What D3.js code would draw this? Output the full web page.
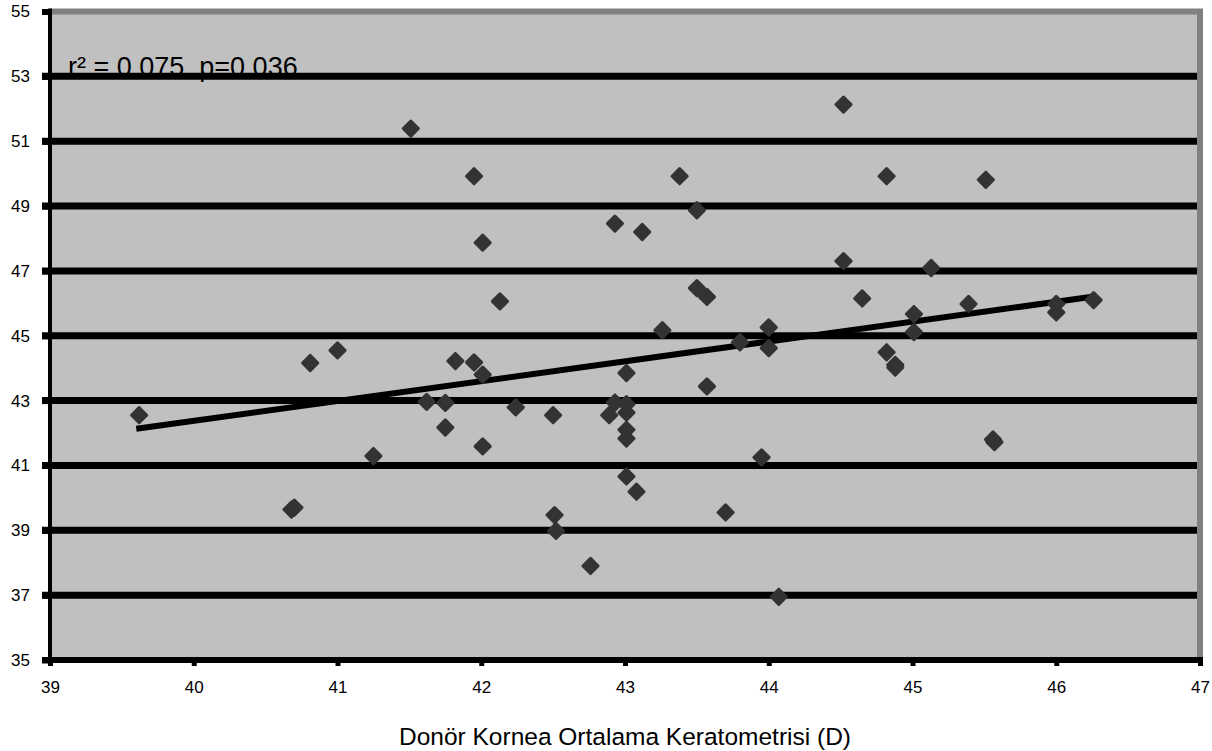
<!DOCTYPE html>
<html>
<head>
<meta charset="utf-8">
<script src="https://cdn.jsdelivr.net/npm/d3@7"></script>
<style>
  body { margin: 0; background: #fff; }
  text { font-family: "Liberation Sans", Arial, Helvetica, sans-serif; }
</style>
</head>
<body>
<div id="draw"></div>
<script>
// values
const xTicks = [39, 40, 41, 42, 43, 44, 45, 46, 47];
const yTicks = [35, 37, 39, 41, 43, 45, 47, 49, 51, 53, 55];
const xValues = [
  39.62, 40.68, 40.70, 40.81, 41.00, 41.25, 41.51, 41.62, 41.75, 41.75,
  41.82, 41.95, 41.95, 42.01, 42.01, 42.01, 42.13, 42.24, 42.50, 42.51,
  42.52, 42.76, 42.89, 42.93, 42.93, 43.01, 43.01, 43.01, 43.01, 43.01,
  43.08, 43.01, 43.12, 43.26, 43.38, 43.50, 43.50, 43.57, 43.57, 43.70,
  43.80, 43.95, 44.00, 44.00, 44.07, 44.52, 44.52, 44.65, 44.82, 44.82,
  44.88, 44.88, 45.01, 45.01, 45.13, 45.39, 45.51, 45.56, 45.57, 46.00,
  46.00, 46.26
];
const yValues = [
  42.55, 39.64, 39.70, 44.16, 44.55, 41.29, 51.39, 42.96, 42.93, 42.17,
  44.22, 44.18, 49.92, 47.87, 43.80, 41.59, 46.06, 42.79, 42.55, 39.47,
  38.98, 37.90, 42.55, 42.94, 48.46, 42.89, 42.63, 42.10, 41.83, 40.66,
  40.19, 43.85, 48.20, 45.17, 49.92, 48.87, 46.47, 46.20, 43.44, 39.55,
  44.80, 41.25, 45.26, 44.62, 36.95, 52.13, 47.30, 46.15, 49.92, 44.49,
  44.10, 44.02, 45.67, 45.11, 47.09, 45.98, 49.81, 41.80, 41.72, 45.72,
  45.98, 46.10
];
// trend line ends
const trendX = [39.6, 46.25];
const trendY = [42.13, 46.2];
const statText = "r\u00B2 = 0.075  p=0.036";
const xTitle = "Donör Kornea Ortalama Keratometrisi (D)";

class ScatterRenderer {

    constructor(xs, ys) {
        this.points = xs.map((x, i) => ({x: x, y: ys[i]}));
    }

    render() {
        this._initVariable();
        this.vis = this._initSvg();
        this._drawFrame();
        this._drawGrid();
        this._drawAxes();
        this._drawTrend();
        this._drawPoints();
    }

    _initVariable() {
        this.w = 1212;
        this.h = 751;
        this.left = 50;
        this.right = 1200;
        this.top = 11.5;
        this.bottom = 660;
        this.x = d3.scaleLinear().domain([39, 47]).range([this.left, this.right]);
        this.y = d3.scaleLinear().domain([35, 55]).range([this.bottom, this.top]);
    }

    _initSvg() {
        return d3.select("#draw").append("svg")
            .attr("width", this.w)
            .attr("height", this.h);
    }

    _drawFrame() {
        this.vis.append("rect")
            .attr("x", this.left)
            .attr("y", this.top)
            .attr("width", this.right - this.left)
            .attr("height", this.bottom - this.top)
            .style("fill", "#c0c0c0");
        //the stat text sits under the grid line
        this.vis.append("text")
            .attr("x", 68)
            .attr("y", 76)
            .style("font-size", "27px")
            .style("white-space", "pre")
            .style("fill", "#000")
            .text(statText);
        //top and right border in grey
        this.vis.append("line")
            .attr("x1", this.left).attr("x2", this.right + 3)
            .attr("y1", this.top).attr("y2", this.top)
            .style("stroke", "#808080").style("stroke-width", 6);
        this.vis.append("line")
            .attr("x1", this.right).attr("x2", this.right)
            .attr("y1", this.top).attr("y2", this.bottom)
            .style("stroke", "#808080").style("stroke-width", 6);
    }

    _drawGrid() {
        const inner = yTicks.filter(v => v > 35 && v < 55);
        this.vis.append("g").selectAll("line")
            .data(inner)
            .join("line")
            .attr("x1", this.left - 8)
            .attr("x2", this.right - 3)
            .attr("y1", d => this.y(d))
            .attr("y2", d => this.y(d))
            .style("stroke", "#000")
            .style("stroke-width", 7);
    }

    _drawAxes() {
        const yAxis = this.vis.append("g")
            .attr("transform", "translate(" + this.left + ",0)")
            .call(d3.axisLeft(this.y).tickValues(yTicks).tickSize(8).tickPadding(12).tickFormat(d3.format("d")));
        yAxis.select(".domain").remove();
        yAxis.selectAll(".tick line").style("stroke", "#000").style("stroke-width", 6);
        yAxis.selectAll(".tick text").style("font-size", "17px").style("fill", "#000");

        const xAxis = this.vis.append("g")
            .attr("transform", "translate(0," + this.bottom + ")")
            .call(d3.axisBottom(this.x).tickValues(xTicks).tickSize(6).tickPadding(15).tickFormat(d3.format("d")));
        xAxis.select(".domain").remove();
        xAxis.selectAll(".tick line").style("stroke", "#000").style("stroke-width", 5);
        xAxis.selectAll(".tick text").style("font-size", "17px").style("fill", "#000");

        //axis lines
        this.vis.append("line")
            .attr("x1", this.left).attr("x2", this.left)
            .attr("y1", this.top - 3).attr("y2", this.bottom)
            .style("stroke", "#000").style("stroke-width", 4);
        this.vis.append("line")
            .attr("x1", this.left - 8).attr("x2", this.right + 3)
            .attr("y1", this.bottom).attr("y2", this.bottom)
            .style("stroke", "#000").style("stroke-width", 6);

        this.vis.append("text")
            .attr("x", 625)
            .attr("y", 745)
            .attr("text-anchor", "middle")
            .style("font-size", "24.5px")
            .style("fill", "#000")
            .text(xTitle);
    }

    _drawTrend() {
        const line = d3.line().x(d => this.x(d[0])).y(d => this.y(d[1]));
        this.vis.append("path")
            .datum(trendX.map((v, i) => [v, trendY[i]]))
            .attr("d", line)
            .style("fill", "none")
            .style("stroke", "#000")
            .style("stroke-width", 6);
    }

    _drawPoints() {
        const marker = d3.symbol().type(d3.symbolSquare).size(115);
        this.vis.append("g").selectAll("path")
            .data(this.points)
            .join("path")
            .attr("d", marker)
            .attr("transform", d => "translate(" + this.x(d.x) + "," + this.y(d.y) + ") rotate(45)")
            .style("fill", "#333")
            .style("stroke", "#333")
            .style("stroke-width", 3)
            .style("stroke-linejoin", "round");
    }
}

new ScatterRenderer(xValues, yValues).render();
</script>
</body>
</html>
